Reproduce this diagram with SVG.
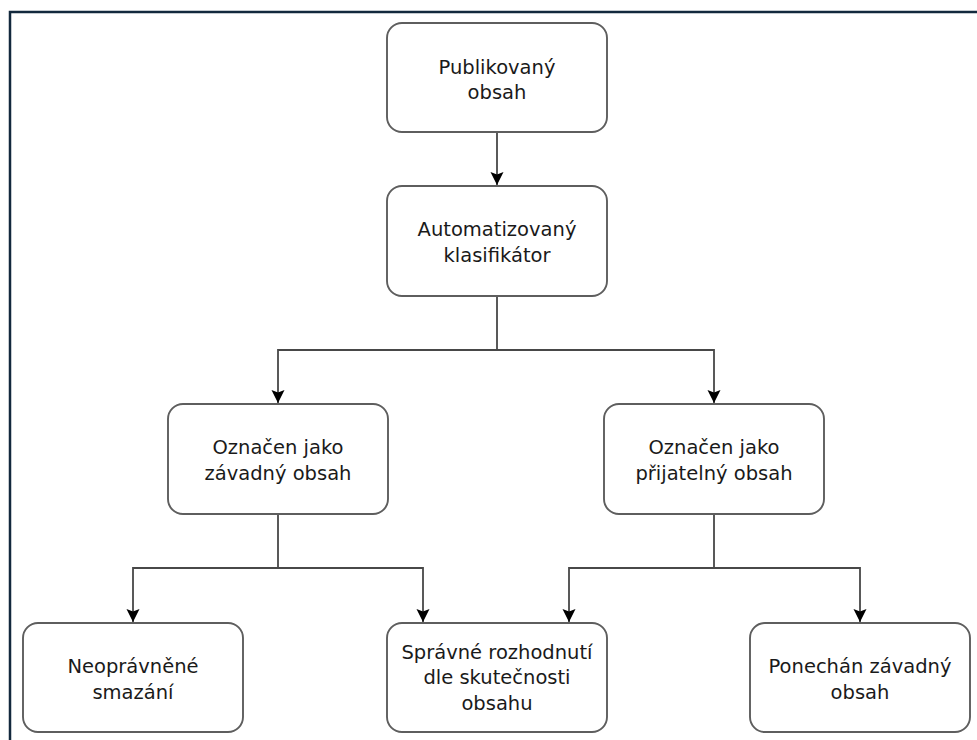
<svg xmlns="http://www.w3.org/2000/svg" width="977" height="740" viewBox="0 0 977 740">
<style>
.node rect{fill:#ffffff;stroke:#5e5e5e;stroke-width:1.9}
.node text{font-family:"DejaVu Sans",sans-serif;font-size:19.5px;fill:#1a1a1a;text-anchor:middle}
.conn path{fill:none;stroke:#484848;stroke-width:1.8}
</style>
<defs>
<marker id="arr" markerUnits="userSpaceOnUse" markerWidth="14" markerHeight="14" refX="13" refY="6.5" orient="auto">
<path d="M0,0 L13,6.5 L0,13 L2.5,6.5 z" fill="#000000"/>
</marker>
</defs>
<rect x="10" y="12" width="1000" height="800" fill="#ffffff" stroke="#13293d" stroke-width="2.5"/>
<g id="connectors" class="conn">
<path d="M497,132 V185" marker-end="url(#arr)"/>
<path d="M497,296 V350 H278 V403" marker-end="url(#arr)"/>
<path d="M497,350 H714 V403" marker-end="url(#arr)"/>
<path d="M278,514 V568 H133 V622" marker-end="url(#arr)"/>
<path d="M278,568 H423 V622" marker-end="url(#arr)"/>
<path d="M714,514 V568 H569 V622" marker-end="url(#arr)"/>
<path d="M714,568 H860 V622" marker-end="url(#arr)"/>
</g>
<g id="publikovany" class="node">
<rect x="387" y="23" width="220" height="109" rx="15"/>
<text x="497" y="74">Publikovaný</text>
<text x="497" y="99">obsah</text>
</g>
<g id="klasifikator" class="node">
<rect x="387" y="186" width="220" height="110" rx="15"/>
<text x="497" y="236">Automatizovaný</text>
<text x="497" y="262">klasifikátor</text>
</g>
<g id="zavadny" class="node">
<rect x="168" y="404" width="220" height="110" rx="15"/>
<text x="278" y="454">Označen jako</text>
<text x="278" y="480">závadný obsah</text>
</g>
<g id="prijatelny" class="node">
<rect x="604" y="404" width="220" height="110" rx="15"/>
<text x="714" y="454">Označen jako</text>
<text x="714" y="480">přijatelný obsah</text>
</g>
<g id="smazani" class="node">
<rect x="23" y="623" width="220" height="109" rx="15"/>
<text x="133" y="673">Neoprávněné</text>
<text x="133" y="699">smazání</text>
</g>
<g id="spravne" class="node">
<rect x="387" y="623" width="220" height="109" rx="15"/>
<text x="497" y="659">Správné rozhodnutí</text>
<text x="497" y="684">dle skutečnosti</text>
<text x="497" y="710">obsahu</text>
</g>
<g id="ponechan" class="node">
<rect x="750" y="623" width="220" height="109" rx="15"/>
<text x="860" y="673">Ponechán závadný</text>
<text x="860" y="699">obsah</text>
</g>
</svg>
